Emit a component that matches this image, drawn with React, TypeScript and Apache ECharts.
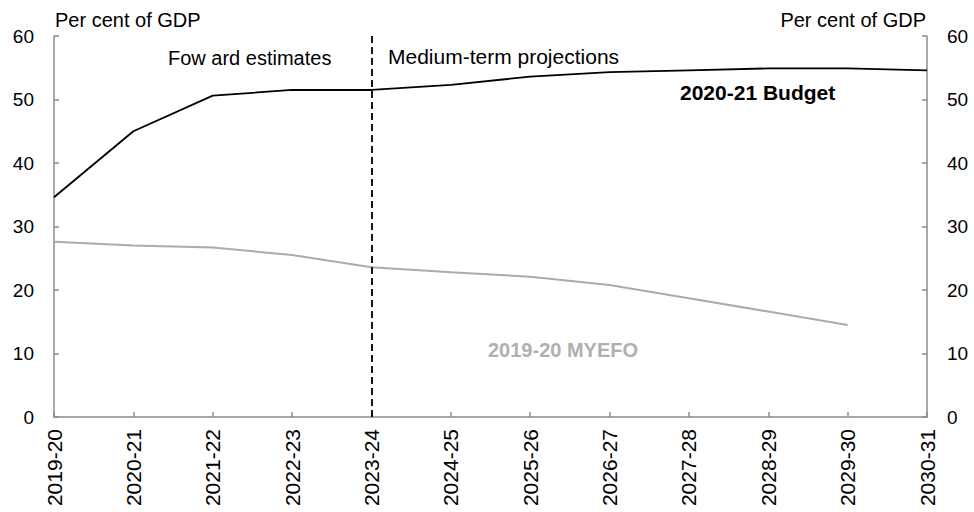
import React, { useEffect, useRef } from "react";
import * as echarts from "echarts";

const categories = [
  "2019-20", "2020-21", "2021-22", "2022-23", "2023-24", "2024-25",
  "2025-26", "2026-27", "2027-28", "2028-29", "2029-30", "2030-31",
];
const budget2020 = [34.6, 45.0, 50.6, 51.5, 51.5, 52.3, 53.6, 54.3, 54.6, 54.9, 54.9, 54.6];
const myefo2019 = [27.6, 27.0, 26.7, 25.5, 23.6, 22.8, 22.1, 20.8, 18.7, 16.6, 14.5, null];
const yTicks = { min: 0, max: 60, interval: 10 };
const dividerCategory = "2023-24";

const FONT = "'Liberation Sans', Arial, sans-serif";

export default function App() {
  const ref = useRef<HTMLDivElement>(null);
  useEffect(() => {
    if (!ref.current) return;
    const chart = echarts.init(ref.current, undefined, { renderer: "svg" });
    const axisLine = { show: true, lineStyle: { color: "#8c8c8c", width: 1.5 } };
    const yAxisBase = {
      type: "value" as const,
      min: yTicks.min,
      max: yTicks.max,
      interval: yTicks.interval,
      axisLine,
      axisTick: { show: true, inside: true, length: 5, lineStyle: { color: "#8c8c8c", width: 1.5 } },
      splitLine: { show: false },
      axisLabel: { color: "#000", fontSize: 19, fontFamily: FONT, margin: 20 },
    };
    chart.setOption({
      animation: false,
      backgroundColor: "#fff",
      grid: { left: 54, right: 47, top: 36, bottom: 95, containLabel: false },
      xAxis: {
        type: "category",
        data: categories,
        boundaryGap: false,
        axisLine,
        axisTick: { show: true, inside: true, length: 5, lineStyle: { color: "#8c8c8c", width: 1.5 } },
        axisLabel: { color: "#000", fontSize: 21, fontFamily: FONT, rotate: 90, margin: 12, interval: 0 },
        splitLine: { show: false },
      },
      yAxis: [
        { ...yAxisBase, position: "left" },
        { ...yAxisBase, position: "right" },
      ],
      series: [
        {
          name: "2020-21 Budget",
          type: "line",
          data: budget2020,
          symbol: "none",
          lineStyle: { color: "#000", width: 1.8 },
          markLine: {
            silent: true,
            symbol: "none",
            label: { show: false },
            lineStyle: { color: "#000", type: [7, 4], width: 1.8 },
            data: [{ xAxis: dividerCategory }],
          },
        },
        {
          name: "2019-20 MYEFO",
          type: "line",
          data: myefo2019,
          symbol: "none",
          lineStyle: { color: "#ababab", width: 2 },
        },
      ],
      graphic: [
        { type: "text", left: 55, top: 10, style: { text: "Per cent of GDP", font: `20px ${FONT}`, fill: "#000" } },
        { type: "text", right: 48, top: 10, style: { text: "Per cent of GDP", font: `20px ${FONT}`, fill: "#000" } },
        { type: "text", left: 168, top: 48, style: { text: "Fow ard estimates", font: `20px ${FONT}`, fill: "#000" } },
        { type: "text", left: 388, top: 46, style: { text: "Medium-term projections", font: `21px ${FONT}`, fill: "#000" } },
        { type: "text", left: 680, top: 82, style: { text: "2020-21 Budget", font: `bold 21px ${FONT}`, fill: "#000" } },
        { type: "text", left: 488, top: 340, style: { text: "2019-20 MYEFO", font: `bold 20px ${FONT}`, fill: "#b0b0b0" } },
      ],
    });
    return () => chart.dispose();
  }, []);
  return (
    <div
      ref={ref}
      style={{ position: "fixed", left: 0, top: 0, width: 974, height: 512, background: "#fff" }}
    />
  );
}
